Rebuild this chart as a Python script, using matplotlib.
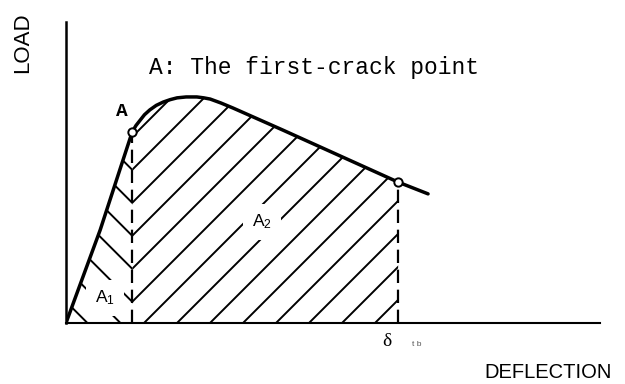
import matplotlib
matplotlib.use("Agg")
import matplotlib.pyplot as plt
import numpy as np
from matplotlib.patches import Polygon
from matplotlib.collections import LineCollection

plt.rcParams["mathtext.fontset"] = "custom"
plt.rcParams["mathtext.rm"] = "Liberation Sans"

# Load-deflection curve (arbitrary units)
deflection = [0.00, 0.64, 1.24, 1.31, 1.39, 1.47, 1.57, 1.69, 1.82, 1.95, 2.08, 2.25,
              2.45, 2.58, 2.70, 2.90, 3.13, 4.06, 6.22, 6.78]
load = [0.00, 3.09, 6.35, 6.56, 6.74, 6.92, 7.08, 7.23, 7.34, 7.42, 7.48, 7.51,
        7.51, 7.48, 7.44, 7.31, 7.14, 6.41, 4.68, 4.29]
first_crack_idx = 2      # point A
end_idx = 18             # deflection delta_tb

title_text = "A: The first-crack point"
x_label = "DEFLECTION"
y_label = "LOAD"
area1_label = r"A$\mathregular{_1}$"
area2_label = r"A$\mathregular{_2}$"

W, H = 625, 384
fig = plt.figure(figsize=(W / 100, H / 100), dpi=100)
ax = fig.add_axes([66 / W, (H - 323) / H, 534 / W, 301 / H])
ax.set_xlim(0, 10)
ax.set_ylim(0, 10)
ax.set_xticks([])
ax.set_yticks([])
for s in ("top", "right"):
    ax.spines[s].set_visible(False)
ax.spines["left"].set_linewidth(1.8)
ax.spines["bottom"].set_linewidth(1.5)

xa, ya = deflection[first_crack_idx], load[first_crack_idx]
xd, yd = deflection[end_idx], load[end_idx]

# clip regions for the two shaded areas
poly1 = Polygon(list(zip(deflection[:first_crack_idx + 1], load[:first_crack_idx + 1])) + [(xa, 0)],
                closed=True, fill=False, edgecolor="none")
poly2 = Polygon([(xa, 0)] + list(zip(deflection[first_crack_idx:end_idx + 1],
                                     load[first_crack_idx:end_idx + 1])) + [(xd, 0)],
                closed=True, fill=False, edgecolor="none")
ax.add_patch(poly1)
ax.add_patch(poly2)

# 45-degree hatch lines in screen space
px_x = 534 / 10.0
px_y = 301 / 10.0
slope = px_x / px_y
step = 33.0 / px_x
start = (144 - 66) / px_x
offsets = start + step * np.arange(-20, 20)

segs2 = [[(x0 - 5, -5 * slope), (x0 + 15, 15 * slope)] for x0 in offsets]
lc2 = LineCollection(segs2, colors="black", linewidths=1.4, zorder=2)
ax.add_collection(lc2)
lc2.set_clip_path(poly2)

# mirrored hatch for area A1
segs1 = [[(2 * xa - (x0 - 5), -5 * slope), (2 * xa - (x0 + 15), 15 * slope)] for x0 in offsets]
lc1 = LineCollection(segs1, colors="black", linewidths=1.4, zorder=2)
ax.add_collection(lc1)
lc1.set_clip_path(poly1)

# dashed verticals
ax.plot([xa, xa], [0, ya], color="black", lw=1.6, ls=(0, (6, 3)), zorder=3)
ax.plot([xd, xd], [0, yd], color="black", lw=1.6, ls=(0, (6, 3)), zorder=3)

# curve
ax.plot(deflection, load, color="black", lw=2.5, solid_capstyle="round",
        solid_joinstyle="round", zorder=4)
ax.plot([xa, xd], [ya, yd], ls="none", marker="o", ms=6, mfc="white",
        mec="black", mew=1.4, zorder=5)

# labels
box = dict(boxstyle="square,pad=0.5", fc="white", ec="none")
ax.text(0.73, 0.83, area1_label, fontsize=12.5, family="Liberation Sans",
        ha="center", va="center", bbox=box, zorder=6)
ax.text(3.67, 3.36, area2_label, fontsize=12.5, family="Liberation Sans",
        ha="center", va="center", bbox=box, zorder=6)
ax.text(xa - 0.19, ya + 0.66, "A", fontsize=14, family="Liberation Mono",
        weight="bold", ha="center", va="center", zorder=6)
ax.text(1.55, 8.27, title_text, fontsize=16.5, family="Liberation Mono",
        ha="left", va="baseline", zorder=6)

fig.text(387 / W, 1 - 341 / H, "δ", fontsize=14, family="Liberation Serif",
         ha="center", va="center")
fig.text(417 / W, 1 - 344 / H, "t b", fontsize=6, family="Liberation Sans",
         color="#555555", ha="center", va="center")
fig.text(548 / W, 1 - 372 / H, x_label, fontsize=14.5, family="Liberation Sans",
         ha="center", va="center")
fig.text(23 / W, 1 - 43 / H, y_label, fontsize=16, family="Liberation Sans",
         rotation=90, ha="center", va="center")

fig.savefig("out.png", dpi=100, facecolor="white")
